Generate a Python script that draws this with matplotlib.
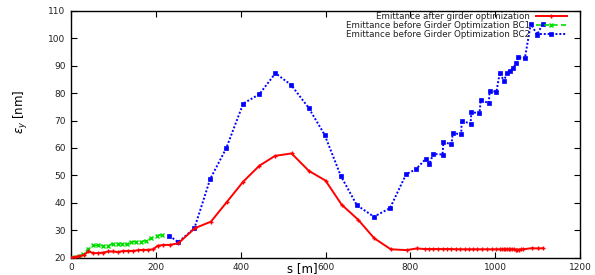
import matplotlib
matplotlib.use("Agg")
import matplotlib.pyplot as plt

# Emittance after girder optimization (red)
s_after = [0, 10, 20, 30, 41, 53, 64, 76, 88, 100, 111, 123, 135, 147, 159, 170, 182, 194,
           204, 218, 233, 253, 292, 330, 367, 406, 444, 481, 520, 561, 600, 638, 677, 715,
           754, 791, 815, 834, 845, 854, 866, 876, 886, 897, 908, 917, 929, 939, 948, 958,
           968, 980, 992, 1003, 1011, 1016, 1020, 1024, 1028, 1032, 1036, 1040, 1044, 1048,
           1052, 1056, 1060, 1066, 1086, 1102, 1113]
e_after = [20.0, 20.2, 20.5, 20.9, 22.2, 21.6, 21.6, 21.8, 22.2, 22.2, 22.0, 22.4, 22.4, 22.4,
           22.7, 22.8, 22.8, 23.0, 24.3, 24.6, 24.6, 25.2, 30.7, 33.1, 40.2, 47.7, 53.5, 57.1,
           58.0, 51.6, 48.1, 39.3, 33.8, 27.0, 23.0, 22.7, 23.3, 23.1, 23.1, 23.1, 23.1, 23.1,
           23.1, 23.1, 23.0, 23.0, 23.0, 23.0, 23.0, 23.0, 23.0, 23.0, 23.0, 23.0, 23.0, 23.0,
           23.0, 23.0, 23.0, 23.0, 23.0, 23.0, 23.0, 22.9, 22.9, 22.9, 23.0, 23.0, 23.4, 23.3, 23.4]

# Emittance before girder optimization BC1 (green)
s_bc1 = [0, 10, 20, 29, 40, 53, 64, 76, 88, 98, 110, 121, 133, 142, 153, 165, 177, 189, 202, 214]
e_bc1 = [20.0, 20.2, 20.5, 21.2, 23.1, 24.4, 24.5, 24.3, 24.3, 25.1, 25.1, 25.1, 24.8, 25.7,
         25.8, 25.8, 26.2, 27.0, 28.0, 28.3]

# Emittance before girder optimization BC2 (blue)
s_bc2 = [232, 253, 291, 328, 366, 406, 444, 482, 519, 560, 598, 636, 674, 714, 752, 790, 813,
         837, 845, 854, 876, 878, 897, 900, 920, 921, 942, 944, 963, 966, 985, 987, 1003, 1011,
         1021, 1027, 1035, 1043, 1049, 1055, 1070, 1084, 1099, 1112]
e_bc2 = [27.9, 25.6, 30.7, 48.6, 59.9, 76.2, 79.6, 87.3, 83.0, 74.7, 64.8, 49.8, 39.1, 34.9,
         38.0, 50.4, 52.2, 56.1, 54.2, 57.8, 57.6, 62.2, 61.3, 65.4, 65.0, 70.0, 68.8, 73.1,
         72.6, 77.4, 76.4, 80.7, 80.6, 87.5, 84.3, 87.5, 88.2, 89.1, 91.1, 93.1, 92.7, 105.3,
         101.4, 105.3]

labels = ["Emittance after girder optimization",
          "Emittance before Girder Optimization BC1",
          "Emittance before Girder Optimization BC2"]

x_ticks = [0, 200, 400, 600, 800, 1000, 1200]
y_ticks = [20, 30, 40, 50, 60, 70, 80, 90, 100, 110]

plt.rcParams['font.family'] = ['DejaVu Sans']

fig = plt.figure(figsize=(5.95, 2.75), dpi=100)
ax = fig.add_axes([71 / 595, 17.5 / 275, 509 / 595, 246.5 / 275])

ax.plot(s_after, e_after, color='#ff0000', lw=1.4, marker='+', ms=3.5, mew=1.0, label=labels[0], zorder=3)
ax.plot(s_bc1, e_bc1, color='#00e000', lw=1.2, ls=(0, (3, 2)), marker='x', ms=3.5, mew=1.0, label=labels[1], zorder=2)
ax.plot(s_bc2, e_bc2, color='#0000ff', lw=1.4, ls=(0, (1, 1)), marker='s', ms=3.5, mew=0.5, label=labels[2], zorder=2)

ax.set_xlim(0, 1200)
ax.set_ylim(20, 110)
ax.set_xticks(x_ticks)
ax.set_yticks(y_ticks)
ax.tick_params(direction='in', length=4, width=0.8, top=True, right=True,
               labelsize=6.5, labelcolor='#222222', pad=4)
for sp in ax.spines.values():
    sp.set_linewidth(1.0)
    sp.set_color('black')

ax.set_xlabel('s [m]', fontsize=8.5)
ax.xaxis.set_label_coords(0.454, -0.045)
ax.xaxis.label.set_va('center')
ax.xaxis.label.set_bbox(dict(facecolor='white', edgecolor='none', pad=0.5))
ax.set_ylabel(r'$\varepsilon_y$ [nm]', fontsize=8.5)
ax.yaxis.set_label_coords(-0.098, 0.59)
ax.yaxis.label.set_va('center')

leg = ax.legend(loc='upper right', bbox_to_anchor=(567 / 595, 1 - 12 / 275), bbox_transform=fig.transFigure,
                frameon=False, markerfirst=False, fontsize=6.3, handlelength=3.6,
                handletextpad=0.6, labelspacing=0.0, borderpad=0, borderaxespad=0)
for t in leg.get_texts():
    t.set_color('#222222')

fig.savefig('out.png', dpi=100)
